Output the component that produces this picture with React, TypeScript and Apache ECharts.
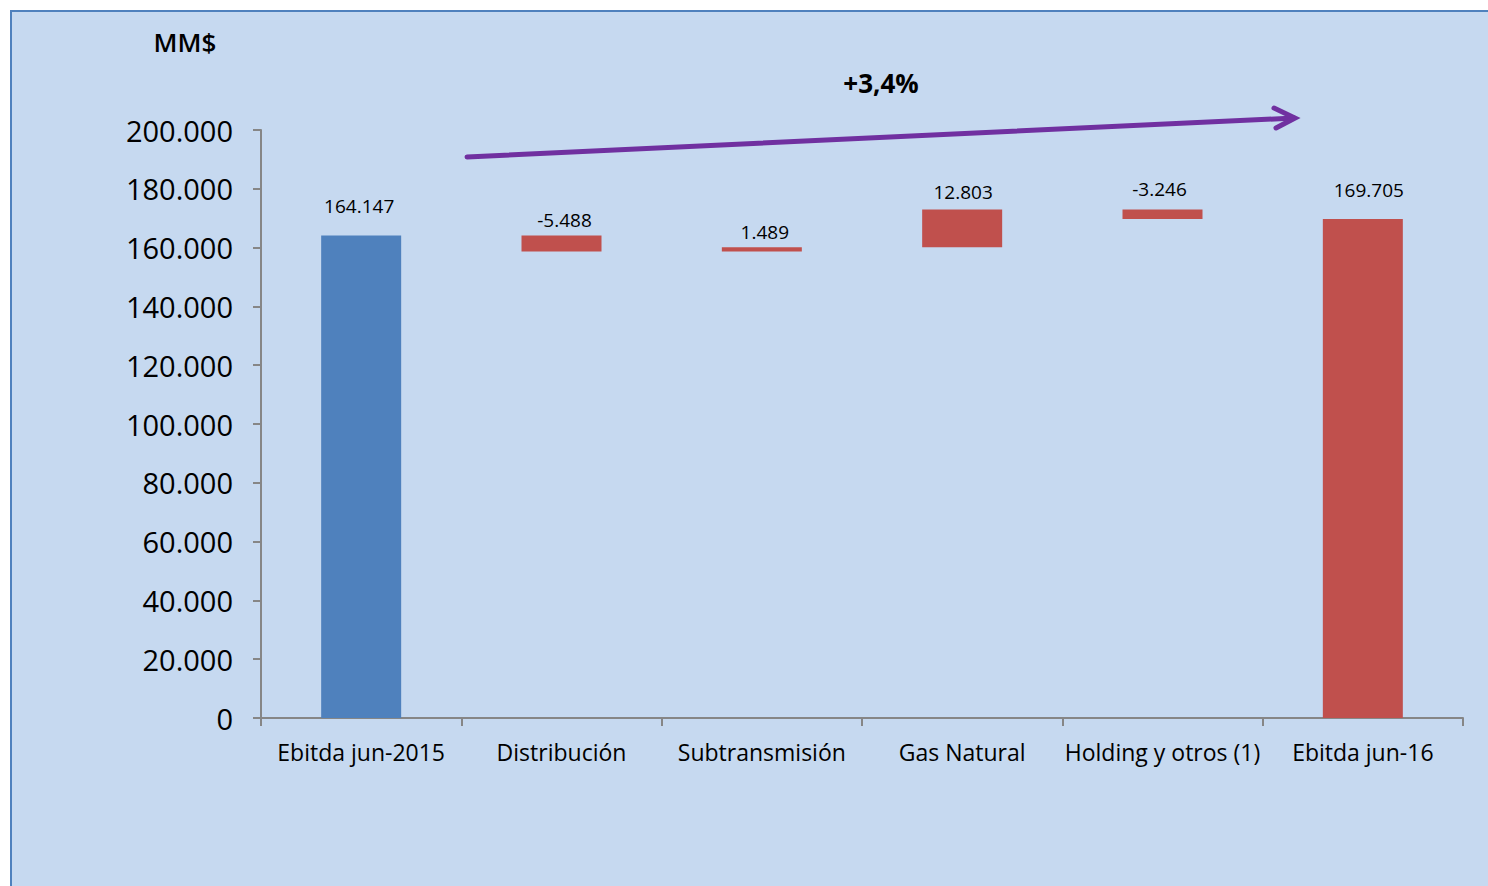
import React, { useEffect, useRef } from "react";
import * as echarts from "echarts";

const categories = [
  "Ebitda jun-2015",
  "Distribución",
  "Subtransmisión",
  "Gas Natural",
  "Holding y otros (1)",
  "Ebitda jun-16",
];
const startValue = 164147;
const deltas = [-5488, 1489, 12803, -3246];
const endValue = 169705;
const yTicks = { min: 0, max: 200000, interval: 20000 };
const unitLabel = "MM$";
const changeLabel = "+3,4%";

const FONT = "'Open Sans', 'Noto Sans', sans-serif";

function fmt(v: number): string {
  const s = Math.abs(Math.round(v))
    .toString()
    .replace(/\B(?=(\d{3})+(?!\d))/g, ".");
  return (v < 0 ? "-" : "") + s;
}

export default function App() {
  const ref = useRef<HTMLDivElement>(null);

  useEffect(() => {
    if (!ref.current) return;
    const chart = echarts.init(ref.current, undefined, { renderer: "svg" });

    // waterfall: transparent base + visible bar
    const bases: number[] = [];
    const heights: number[] = [];
    const labels: number[] = [];
    bases.push(0);
    heights.push(startValue);
    labels.push(startValue);
    let running = startValue;
    deltas.forEach((d) => {
      const next = running + d;
      bases.push(Math.min(running, next));
      heights.push(Math.abs(d));
      labels.push(d);
      running = next;
    });
    bases.push(0);
    heights.push(endValue);
    labels.push(endValue);

    const colors = ["#4f81bd", "#c0504d", "#c0504d", "#c0504d", "#c0504d", "#c0504d"];
    const labelDist = [20, 6, 6, 8, 11, 20];
    const labelShift = [-2, 3, 3, 1, -3, 6];

    chart.setOption({
      animation: false,
      textStyle: { fontFamily: FONT },
      grid: { left: 261, right: 25, top: 130, bottom: 168, containLabel: false },
      graphic: [
        {
          type: "rect",
          z: -10,
          silent: true,
          shape: { x: 11, y: 11, width: 1500, height: 900 },
          style: { fill: "#c6d9f0", stroke: "#4f81bd", lineWidth: 2 },
        },
        {
          type: "text",
          x: 185,
          y: 42,
          style: {
            text: unitLabel,
            font: `600 26px ${FONT}`,
            fill: "#000",
            align: "center",
            verticalAlign: "middle",
          },
        },
        {
          type: "text",
          x: 881,
          y: 83,
          style: {
            text: changeLabel,
            font: `bold 26px ${FONT}`,
            fill: "#000",
            align: "center",
            verticalAlign: "middle",
          },
        },
        {
          type: "line",
          shape: { x1: 467, y1: 157, x2: 1294, y2: 118 },
          style: { stroke: "#7030a0", lineWidth: 5, lineCap: "round" },
        },
        {
          type: "polyline",
          shape: { points: [[1274, 108], [1295, 118], [1276, 128]] },
          style: { stroke: "#7030a0", lineWidth: 5, lineCap: "round", lineJoin: "miter", fill: "none" },
        },
      ],
      xAxis: {
        type: "category",
        data: categories,
        boundaryGap: true,
        axisLine: { show: true, lineStyle: { color: "#868686", width: 2 } },
        axisTick: { show: true, length: 8, alignWithLabel: false, lineStyle: { color: "#868686", width: 2 } },
        axisLabel: { color: "#000", fontSize: 23, margin: 22, fontFamily: FONT, interval: 0 },
        splitLine: { show: false },
      },
      yAxis: {
        type: "value",
        min: yTicks.min,
        max: yTicks.max,
        interval: yTicks.interval,
        axisLine: { show: true, lineStyle: { color: "#868686", width: 2 } },
        axisTick: { show: true, length: 8, lineStyle: { color: "#868686", width: 2 } },
        axisLabel: {
          color: "#000",
          fontSize: 29,
          margin: 28,
          fontFamily: FONT,
          formatter: (v: number) => fmt(v),
        },
        splitLine: { show: false },
      },
      series: [
        {
          type: "bar",
          stack: "wf",
          barWidth: 80,
          silent: true,
          itemStyle: { color: "transparent" },
          data: bases,
        },
        {
          type: "bar",
          stack: "wf",
          barWidth: 80,
          data: heights.map((h, i) => ({
            value: h,
            itemStyle: { color: colors[i] },
            label: {
              show: true,
              position: "top",
              distance: labelDist[i],
              offset: [labelShift[i], 0],
              formatter: () => fmt(labels[i]),
              color: "#000",
              fontSize: 19,
              fontFamily: FONT,
            },
          })),
        },
      ],
    });

    return () => chart.dispose();
  }, []);

  return (
    <div
      ref={ref}
      style={{ position: "absolute", left: 0, top: 0, width: 1488, height: 886, background: "#fff" }}
    />
  );
}
